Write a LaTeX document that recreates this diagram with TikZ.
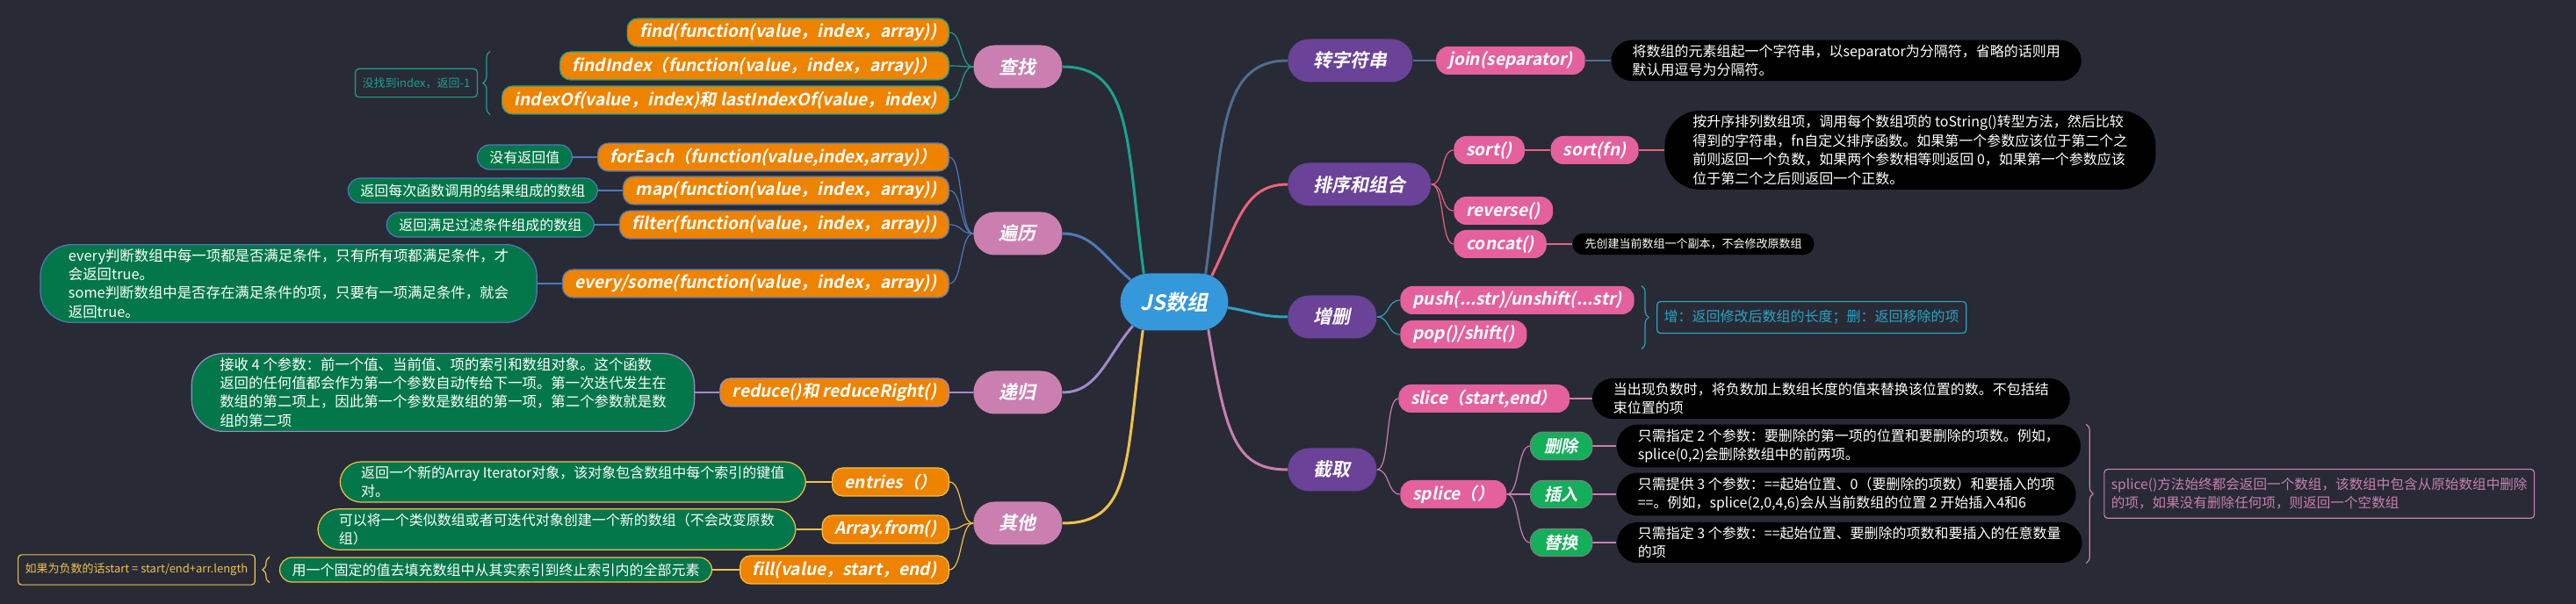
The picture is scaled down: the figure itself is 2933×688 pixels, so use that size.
\documentclass[tikz,border=0pt]{standalone}
\usepackage{fontspec}
\setmainfont{Noto Sans CJK SC}[BoldFont={* Bold},ItalicFont={*},ItalicFeatures={FakeSlant=0.2},BoldItalicFont={* Bold},BoldItalicFeatures={FakeSlant=0.2}]
\usetikzlibrary{positioning,calc,backgrounds,shapes.misc,decorations.pathreplacing}

\definecolor{bgcol}{HTML}{282A36}
\definecolor{rootcol}{HTML}{3598DB}
\definecolor{lonecol}{HTML}{CB7FB1}
\definecolor{ronecol}{HTML}{6A4298}
\definecolor{fncol}{HTML}{EE8300}
\definecolor{pkcol}{HTML}{E4619D}
\definecolor{gncol}{HTML}{03774A}
\definecolor{gnbcol}{HTML}{15AE5A}
\definecolor{czcol}{HTML}{1AA38E}
\definecolor{blcol}{HTML}{4F79BD}
\definecolor{dgcol}{HTML}{A08ACB}
\definecolor{qtcol}{HTML}{F1C24A}
\definecolor{zfcol}{HTML}{4E6D90}
\definecolor{pxcol}{HTML}{EA6479}
\definecolor{zscol}{HTML}{2BA3C2}
\definecolor{jqcol}{HTML}{C880B0}

\begin{document}
\begin{tikzpicture}[x=0.5pt,y=-0.5pt,
  root/.style={shape=rounded rectangle,fill=rootcol,minimum width=68pt,minimum height=32.5pt,text=white,font=\fontsize{12}{14}\selectfont\bfseries\itshape},
  lone/.style={fill=lonecol,rounded corners=12pt,minimum width=50.5pt,minimum height=24.5pt,inner xsep=14.5pt,text=white,font=\fontsize{10.5}{12}\selectfont\bfseries\itshape},
  rone/.style={lone,fill=ronecol},
  fn/.style={fill=fncol,draw=#1,line width=0.6pt,rounded corners=6pt,minimum height=16pt,inner xsep=7pt,inner ysep=2pt,text=white,font=\fontsize{9.6}{11}\selectfont\bfseries\itshape},
  pk/.style={fill=pkcol,rounded corners=7pt,minimum height=16pt,inner xsep=7pt,inner ysep=2pt,text=white,font=\fontsize{9.6}{11}\selectfont\bfseries\itshape},
  sw/.style={fill=gnbcol,draw=gray,line width=0.5pt,rounded corners=7pt,minimum height=15.5pt,inner xsep=8pt,text=white,font=\fontsize{9.6}{11}\selectfont\bfseries\itshape},
  gn/.style={fill=gncol,draw=#1,line width=0.6pt,rounded corners=7pt,minimum height=14pt,inner xsep=7pt,inner ysep=2.5pt,align=left,text=white,font=\fontsize{8}{10.6}\selectfont},
  bk/.style={fill=black,rounded corners=12pt,inner xsep=12pt,inner ysep=2.5pt,align=left,text=white,font=\fontsize{8}{10.8}\selectfont},
  tip/.style={draw=#1,text=#1,rounded corners=2pt,inner xsep=4pt,inner ysep=5pt,line width=0.6pt,align=left,font=\fontsize{6.5}{8}\selectfont},
  main/.style={draw=#1,line width=1.5pt},
  sub/.style={draw=#1,line width=0.6pt},
  brc/.style={draw=#1,line width=0.6pt,decorate,decoration={brace,amplitude=4pt}},
]
\useasboundingbox (0,0) rectangle (2933,688);

% centre and first level
\node[root] (root) at (1337,344) {JS数组};
\node[lone,anchor=west] (cz) at (1108,76) {查找};
\node[lone,anchor=west] (bl) at (1108,266) {遍历};
\node[lone,anchor=west] (dg) at (1108,447) {递归};
\node[lone,anchor=west] (qt) at (1108,596) {其他};
\node[rone,anchor=west] (zfc) at (1466,69) {转字符串};
\node[rone,anchor=west] (px) at (1466,210) {排序和组合};
\node[rone,anchor=west] (zs) at (1466,361) {增删};
\node[rone,anchor=west] (jq) at (1466,535) {截取};

% 查找
\node[fn=czcol,anchor=east] (find) at (1081,37) {find(function(value，index，array))};
\node[fn=czcol,anchor=east] (fidx) at (1081,75) {findIndex（function(value，index，array)）};
\node[fn=czcol,anchor=east] (iof) at (1081,114) {indexOf(value，index)和 lastIndexOf(value，index)};
\coordinate (b1) at ([xshift=-6.5pt]iof.south west);
\coordinate (b2) at (b1 |- fidx.north);
\node[tip=czcol,left=7pt] (nf) at ($(b1)!.5!(b2)$) {没找到index，返回-1};

% 遍历
\node[fn=blcol,anchor=east] (fe) at (1081,179) {forEach（function(value,index,array)）};
\node[fn=blcol,anchor=east] (mp) at (1081,217) {map(function(value，index，array))};
\node[fn=blcol,anchor=east] (flt) at (1081,256) {filter(function(value，index，array))};
\node[fn=blcol,anchor=east] (evs) at (1081,323) {every/some(function(value，index，array))};
\node[gn=blcol,left=14pt of fe] (fen) {没有返回值};
\node[gn=blcol,left=14pt of mp] (mpn) {返回每次函数调用的结果组成的数组};
\node[gn=blcol,left=14pt of flt] (fltn) {返回满足过滤条件组成的数组};
\node[gn=blcol,left=14pt of evs,rounded corners=18pt,inner xsep=16pt,font=\fontsize{8.2}{10.6}\selectfont] (evsn) {every判断数组中每一项都是否满足条件，只有所有项都满足条件，才\\会返回true。\\some判断数组中是否存在满足条件的项，只要有一项满足条件，就会\\返回true。};

% 递归
\node[fn=dgcol,anchor=east] (rdc) at (1081,447) {reduce()和 reduceRight()};
\node[gn=dgcol,left=14pt of rdc,rounded corners=18pt,inner xsep=16pt,font=\fontsize{8.2}{10.6}\selectfont] (rdcn) {接收 4 个参数：前一个值、当前值、项的索引和数组对象。这个函数\\返回的任何值都会作为第一个参数自动传给下一项。第一次迭代发生在\\数组的第二项上，因此第一个参数是数组的第一项，第二个参数就是数\\组的第二项};

% 其他
\node[fn=qtcol,anchor=east] (ent) at (1081,549) {entries（）};
\node[fn=qtcol,anchor=east] (afr) at (1081,603) {Array.from()};
\node[fn=qtcol,anchor=east] (fil) at (1081,649) {fill(value，start，end)};
\node[gn=qtcol,left=14.5pt of ent,rounded corners=12pt,inner xsep=12pt] (entn) {返回一个新的Array Iterator对象，该对象包含数组中每个索引的键值\\对。};
\node[gn=qtcol,left=14.5pt of afr,rounded corners=12pt,inner xsep=12pt] (afrn) {可以将一个类似数组或者可迭代对象创建一个新的数组（不会改变原数\\组）};
\node[gn=qtcol,left=15.5pt of fil] (filn) {用一个固定的值去填充数组中从其实索引到终止索引内的全部元素};
\coordinate (b3) at ([xshift=-5.5pt]filn.south west);
\coordinate (b4) at ([xshift=-5.5pt]filn.north west);
\node[tip=qtcol,left=8pt] (filt) at ($(b3)!.5!(b4)$) {如果为负数的话start = start/end+arr.length};

% 转字符串
\node[pk,right=13pt of zfc] (join) {join(separator)};
\node[bk,right=14.5pt of join] (joinn) {将数组的元素组起一个字符串，以separator为分隔符，省略的话则用\\默认用逗号为分隔符。};

% 排序和组合
\node[pk,anchor=west] (sort) at (1655,171) {sort()};
\node[pk,right=14.5pt of sort] (sortfn) {sort(fn)};
\node[bk,right=14.5pt of sortfn,rounded corners=20pt,inner xsep=16pt] (sortn) {按升序排列数组项，调用每个数组项的 toString()转型方法，然后比较\\得到的字符串，fn自定义排序函数。如果第一个参数应该位于第二个之\\前则返回一个负数，如果两个参数相等则返回 0，如果第一个参数应该\\位于第二个之后则返回一个正数。};
\node[pk,anchor=west] (rev) at (1655,240) {reverse()};
\node[pk,anchor=west] (cat) at (1655,278) {concat()};
\node[bk,right=14.5pt of cat,rounded corners=6pt,inner xsep=7pt,inner ysep=3pt,font=\fontsize{6.5}{8}\selectfont] (catn) {先创建当前数组一个副本，不会修改原数组};

% 增删
\node[pk,anchor=west] (push) at (1594,342) {push(...str)/unshift(...str)};
\node[pk,anchor=west] (pop) at (1594,381) {pop()/shift()};
\coordinate (b5) at ([xshift=4pt]push.north east);
\coordinate (b6) at (b5 |- pop.south);
\node[tip=zscol,right=8.5pt,font=\fontsize{8}{10}\selectfont] (zst) at ($(b5)!.5!(b6)$) {增：返回修改后数组的长度；删：返回移除的项};

% 截取
\node[pk,anchor=west] (slc) at (1592,454) {slice（start,end）};
\node[bk,right=12.5pt of slc] (slcn) {当出现负数时，将负数加上数组长度的值来替换该位置的数。不包括结\\束位置的项};
\node[pk,anchor=west] (spl) at (1594,563) {splice（）};
\node[sw,anchor=west] (del) at (1742,508) {删除};
\node[sw,anchor=west] (ins) at (1742,563) {插入};
\node[sw,anchor=west] (rep) at (1742,618) {替换};
\node[bk,right=13.5pt of del] (deln) {只需指定 2 个参数：要删除的第一项的位置和要删除的项数。例如，\\splice(0,2)会删除数组中的前两项。};
\node[bk,right=13.5pt of ins] (insn) {只需提供 3 个参数：==起始位置、0（要删除的项数）和要插入的项\\==。例如，splice(2,0,4,6)会从当前数组的位置 2 开始插入4和6};
\node[bk,right=13.5pt of rep] (repn) {只需指定 3 个参数：==起始位置、要删除的项数和要插入的任意数量\\的项};
\coordinate (b7) at ([xshift=3pt]deln.north east);
\coordinate (b8) at (b7 |- repn.south);
\node[tip=jqcol,right=10pt,font=\fontsize{7.8}{10.5}\selectfont] (splt) at ($(b7)!.5!(b8)$) {splice()方法始终都会返回一个数组，该数组中包含从原始数组中删除\\的项，如果没有删除任何项，则返回一个空数组};

\begin{scope}[on background layer]
\fill[bgcol] (0,0) rectangle (2933,688);
% main branches
\draw[main=czcol] (root.137) .. controls +(-20,-150) and +(80,0) .. (cz.east);
\draw[main=blcol] (root.153) .. controls +(-30,-25) and +(35,0) .. (bl.east);
\draw[main=dgcol] (root.210) .. controls +(-30,35) and +(40,0) .. (dg.east);
\draw[main=qtcol] (root.222) .. controls +(-20,150) and +(80,0) .. (qt.east);
\draw[main=zfcol] (root.42) .. controls +(20,-150) and +(-80,0) .. (zfc.west);
\draw[main=pxcol] (root.35) .. controls +(30,-60) and +(-50,0) .. (px.west);
\draw[main=zscol] (root.354) .. controls +(30,5) and +(-30,0) .. (zs.west);
\draw[main=jqcol] (root.321) .. controls +(20,120) and +(-60,0) .. (jq.west);
% 查找
\draw[sub=czcol] (cz.west) .. controls +(-15,0) and +(15,0) .. (find.east);
\draw[sub=czcol] (cz.west) .. controls +(-15,0) and +(15,0) .. (fidx.east);
\draw[sub=czcol] (cz.west) .. controls +(-15,0) and +(15,0) .. (iof.east);
\draw[brc=czcol] (b1) -- (b2);
% 遍历
\draw[sub=blcol] (bl.west) .. controls +(-15,0) and +(15,0) .. (fe.east);
\draw[sub=blcol] (bl.west) .. controls +(-15,0) and +(15,0) .. (mp.east);
\draw[sub=blcol] (bl.west) .. controls +(-15,0) and +(15,0) .. (flt.east);
\draw[sub=blcol] (bl.west) .. controls +(-15,0) and +(15,0) .. (evs.east);
\draw[sub=blcol] (fe.west) -- (fen.east);
\draw[sub=blcol] (mp.west) -- (mpn.east);
\draw[sub=blcol] (flt.west) -- (fltn.east);
\draw[sub=blcol] (evs.west) -- (evsn.east);
% 递归
\draw[sub=dgcol] (dg.west) -- (rdc.east);
\draw[sub=dgcol] (rdc.west) -- (rdcn.east);
% 其他
\draw[sub=qtcol] (qt.west) .. controls +(-15,0) and +(15,0) .. (ent.east);
\draw[sub=qtcol] (qt.west) .. controls +(-15,0) and +(15,0) .. (afr.east);
\draw[sub=qtcol] (qt.west) .. controls +(-15,0) and +(15,0) .. (fil.east);
\draw[sub=qtcol] (ent.west) -- (entn.east);
\draw[sub=qtcol] (afr.west) -- (afrn.east);
\draw[sub=qtcol] (fil.west) -- (filn.east);
\draw[brc=qtcol] (b3) -- (b4);
% 转字符串
\draw[sub=zfcol] (zfc.east) -- (join.west);
\draw[sub=zfcol] (join.east) -- (joinn.west);
% 排序和组合
\draw[sub=pxcol] (px.east) .. controls +(15,0) and +(-15,0) .. (sort.west);
\draw[sub=pxcol] (px.east) .. controls +(15,0) and +(-15,0) .. (rev.west);
\draw[sub=pxcol] (px.east) .. controls +(15,0) and +(-15,0) .. (cat.west);
\draw[sub=pxcol] (sort.east) -- (sortfn.west);
\draw[sub=pxcol] (sortfn.east) -- (sortn.west);
\draw[sub=pxcol] (cat.east) -- (catn.west);
% 增删
\draw[sub=zscol] (zs.east) .. controls +(15,0) and +(-15,0) .. (push.west);
\draw[sub=zscol] (zs.east) .. controls +(15,0) and +(-15,0) .. (pop.west);
\draw[brc=zscol] (b5) -- (b6);
% 截取
\draw[sub=jqcol] (jq.east) .. controls +(15,0) and +(-15,0) .. (slc.west);
\draw[sub=jqcol] (jq.east) .. controls +(15,0) and +(-15,0) .. (spl.west);
\draw[sub=jqcol] (slc.east) -- (slcn.west);
\draw[sub=jqcol] (spl.east) .. controls +(15,0) and +(-15,0) .. (del.west);
\draw[sub=jqcol] (spl.east) -- (ins.west);
\draw[sub=jqcol] (spl.east) .. controls +(15,0) and +(-15,0) .. (rep.west);
\draw[sub=jqcol] (del.east) -- (deln.west);
\draw[sub=jqcol] (ins.east) -- (insn.west);
\draw[sub=jqcol] (rep.east) -- (repn.west);
\draw[brc=jqcol] (b7) -- (b8);
\end{scope}
\end{tikzpicture}
\end{document}
